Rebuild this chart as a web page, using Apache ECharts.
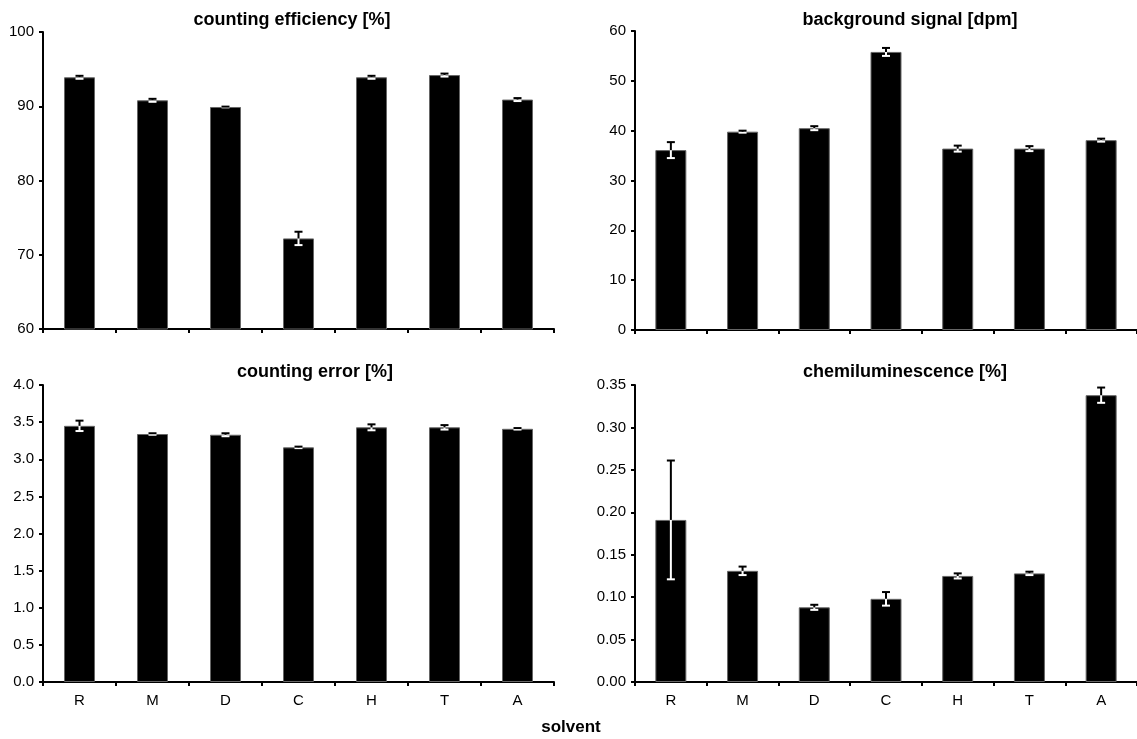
<!DOCTYPE html>
<html>
<head>
<meta charset="utf-8">
<title>solvent comparison</title>
<script src="https://cdn.jsdelivr.net/npm/echarts@6/dist/echarts.min.js"></script>
<style>
  html, body { margin: 0; padding: 0; background: #fff; }
  #container { width: 1137px; height: 739px; }
</style>
</head>
<body>
<div id="container"></div>
<script type="text/javascript">
// solvents
var solvents = ['R', 'M', 'D', 'C', 'H', 'T', 'A'];

// counting efficiency [%]
var efficiency = [93.9, 90.8, 89.9, 72.2, 93.9, 94.2, 90.9];
var efficiencyErr = [0.2, 0.2, 0.05, 0.9, 0.2, 0.2, 0.2];

// background signal [dpm]
var background = [36.1, 39.8, 40.5, 55.8, 36.4, 36.4, 38.1];
var backgroundErr = [1.6, 0.2, 0.4, 0.8, 0.6, 0.5, 0.3];

// counting error [%]
var countErr = [3.45, 3.34, 3.33, 3.16, 3.43, 3.43, 3.41];
var countErrErr = [0.07, 0.01, 0.02, 0.01, 0.04, 0.03, 0.01];

// chemiluminescence [%]
var chemi = [0.191, 0.131, 0.088, 0.098, 0.125, 0.128, 0.338];
var chemiErr = [0.07, 0.005, 0.003, 0.008, 0.003, 0.002, 0.009];

var FONT = 'Liberation Sans, Arial, sans-serif';

var panels = [
    { title: 'counting efficiency [%]', vals: efficiency, errs: efficiencyErr, min: 60, max: 100, step: 10, dec: 0, labels: false },
    { title: 'background signal [dpm]', vals: background, errs: backgroundErr, min: 0, max: 60, step: 10, dec: 0, labels: false },
    { title: 'counting error [%]', vals: countErr, errs: countErrErr, min: 0, max: 4, step: 0.5, dec: 1, labels: true },
    { title: 'chemiluminescence [%]', vals: chemi, errs: chemiErr, min: 0, max: 0.35, step: 0.05, dec: 2, labels: true }
];

var grids = [
    { left: 43, top: 32, width: 511, height: 297 },
    { left: 635, top: 31, width: 510, height: 299 },
    { left: 43, top: 385, width: 511, height: 297 },
    { left: 635, top: 385, width: 510, height: 297 }
];
var titlePos = [[292, 20], [910, 20], [315, 372], [905, 372]];

var xAxes = [], yAxes = [], series = [], graphics = [];

// error bar: white part inside the bar, black part above it
function errorItem(params, api) {
    var i = api.value(0);
    var v = api.value(1);
    var e = api.value(2);
    var top = api.coord([i, v + e]);
    var mid = api.coord([i, v]);
    var bot = api.coord([i, v - e]);
    var x = mid[0], hw = 4;
    return {
        type: 'group',
        children: [
            { type: 'line', shape: { x1: x, y1: mid[1], x2: x, y2: bot[1] }, style: { stroke: '#fff', lineWidth: 2 } },
            { type: 'line', shape: { x1: x - hw, y1: bot[1], x2: x + hw, y2: bot[1] }, style: { stroke: '#fff', lineWidth: 2 } },
            { type: 'line', shape: { x1: x, y1: mid[1], x2: x, y2: top[1] }, style: { stroke: '#000', lineWidth: 2 } },
            { type: 'line', shape: { x1: x - hw, y1: top[1], x2: x + hw, y2: top[1] }, style: { stroke: '#000', lineWidth: 2 } }
        ]
    };
}

panels.forEach(function (p, k) {
    xAxes.push({
        type: 'category',
        gridIndex: k,
        data: solvents,
        boundaryGap: true,
        axisLine: { show: true, lineStyle: { color: '#000', width: 2 } },
        axisTick: { show: true, inside: false, length: 4, interval: 0, lineStyle: { color: '#000', width: 2 } },
        axisLabel: { show: p.labels, color: '#000', fontFamily: FONT, fontSize: 15, margin: 11 },
        splitLine: { show: false }
    });
    yAxes.push({
        type: 'value',
        gridIndex: k,
        min: p.min,
        max: p.max,
        interval: p.step,
        axisLine: { show: true, lineStyle: { color: '#000', width: 2 } },
        axisTick: { show: true, inside: false, length: 4, lineStyle: { color: '#000', width: 2 } },
        axisLabel: {
            color: '#000', fontFamily: FONT, fontSize: 15, margin: 9,
            formatter: function (v) { return v.toFixed(p.dec); }
        },
        splitLine: { show: false }
    });
    series.push({
        type: 'bar',
        xAxisIndex: k,
        yAxisIndex: k,
        data: p.vals,
        barWidth: 31,
        itemStyle: { color: '#000', borderColor: '#666', borderWidth: 1 },
        silent: true
    });
    series.push({
        type: 'custom',
        xAxisIndex: k,
        yAxisIndex: k,
        data: p.vals.map(function (v, i) { return [i, v, p.errs[i]]; }),
        renderItem: errorItem,
        z: 5,
        silent: true
    });
    graphics.push({
        type: 'text',
        x: titlePos[k][0],
        y: titlePos[k][1],
        style: { text: p.title, fill: '#000', font: 'bold 18px ' + FONT, textAlign: 'center', textVerticalAlign: 'middle' }
    });
});

graphics.push({
    type: 'text',
    x: 571,
    y: 727,
    style: { text: 'solvent', fill: '#000', font: 'bold 17px ' + FONT, textAlign: 'center', textVerticalAlign: 'middle' }
});

var myChart = echarts.init(document.getElementById('container'));
var option = {
    backgroundColor: '#fff',
    animation: false,
    grid: grids,
    xAxis: xAxes,
    yAxis: yAxes,
    series: series,
    graphic: graphics
};
myChart.setOption(option);
</script>
</body>
</html>
